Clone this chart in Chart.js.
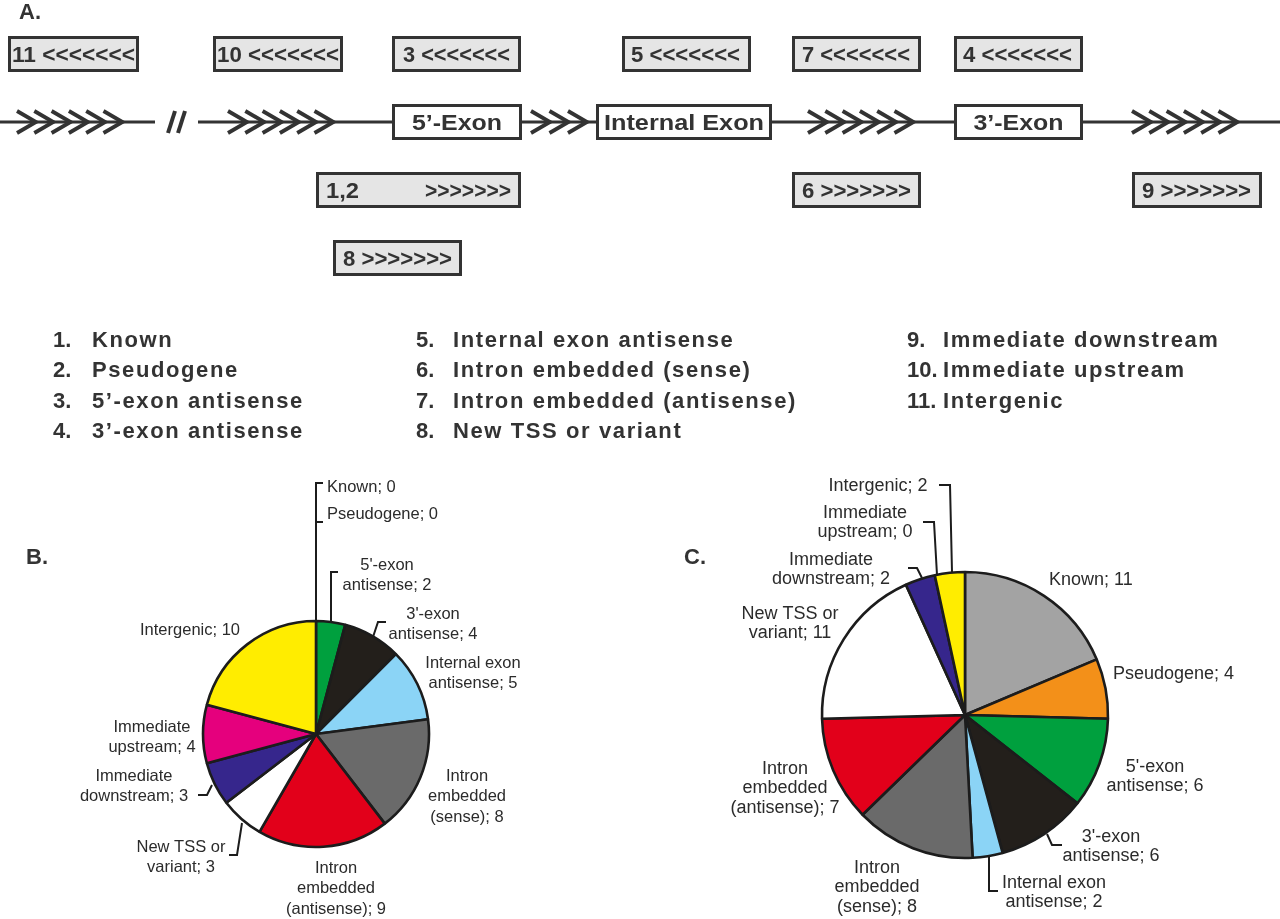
<!DOCTYPE html>
<html><head><meta charset="utf-8">
<script src="https://cdn.jsdelivr.net/npm/chart.js@4.4.1/dist/chart.umd.min.js"></script>
<style>
html,body{margin:0;padding:0;background:#fff;}
body{width:1280px;height:919px;position:relative;overflow:hidden;font-family:"Liberation Sans",Arial,sans-serif;}
#diagram{position:absolute;left:0;top:0;}
.pie{position:absolute;}
</style></head><body>
<svg id="diagram" width="1280" height="460" xmlns="http://www.w3.org/2000/svg"></svg>
<canvas id="pieB" class="pie" width="640" height="459" style="left:0;top:460px;width:640px;height:459px"></canvas>
<canvas id="pieC" class="pie" width="640" height="459" style="left:640px;top:460px;width:640px;height:459px"></canvas>
<script>
// ---------- data ----------
const categories = ["Known","Pseudogene","5'-exon antisense","3'-exon antisense","Internal exon antisense","Intron embedded (sense)","Intron embedded (antisense)","New TSS or variant","Immediate downstream","Immediate upstream","Intergenic"];
const legendNames = ["Known","Pseudogene","5’-exon antisense","3’-exon antisense","Internal exon antisense","Intron embedded (sense)","Intron embedded (antisense)","New TSS or variant","Immediate downstream","Immediate upstream","Intergenic"];
const labelLines = [["Known"],["Pseudogene"],["5'-exon","antisense"],["3'-exon","antisense"],["Internal exon","antisense"],["Intron","embedded","(sense)"],["Intron","embedded","(antisense)"],["New TSS or","variant"],["Immediate","downstream"],["Immediate","upstream"],["Intergenic"]];
const valuesB = [0,0,2,4,5,8,9,3,3,4,10];
const valuesC = [11,4,6,6,2,8,7,11,2,0,2];
const sliceColors = ["#a3a3a3","#f39019","#00a03e","#231f1b","#8bd4f6","#6a6a6a","#e2001a","#ffffff","#36268c","#e5007d","#ffed00"];

// ---------- panel A diagram ----------
const NS = "http://www.w3.org/2000/svg";
const svg = document.getElementById('diagram');
const INK = "#333333";
function el(tag, attrs, text){
  const e = document.createElementNS(NS, tag);
  for (const k in attrs) e.setAttribute(k, attrs[k]);
  if (text !== undefined) e.textContent = text;
  svg.appendChild(e); return e;
}
const FONT = '"Liberation Sans", Arial, sans-serif';
el('text',{x:19,y:19,'font-family':FONT,'font-weight':'bold','font-size':22,fill:INK},'A.');

// main line
const lineY = 122;
el('line',{x1:0,y1:lineY,x2:155,y2:lineY,stroke:INK,'stroke-width':3});
el('line',{x1:198,y1:lineY,x2:1280,y2:lineY,stroke:INK,'stroke-width':3});
el('line',{x1:168,y1:133,x2:175,y2:111,stroke:INK,'stroke-width':4});
el('line',{x1:178,y1:133,x2:185,y2:111,stroke:INK,'stroke-width':4});

// chevron groups
const chevronGroups = [{x:17,n:6,p:17.3},{x:228,n:6,p:17.3},{x:531,n:3,p:18.5},{x:808,n:6,p:17.3},{x:1132,n:6,p:17.3}];
chevronGroups.forEach(g=>{
  for(let i=0;i<g.n;i++){
    const x = g.x + i*g.p;
    el('polyline',{points:`${x},${lineY-11} ${x+19},${lineY} ${x},${lineY+11}`,fill:'none',stroke:INK,'stroke-width':3.8,'stroke-linejoin':'miter'});
  }
});

// exon boxes
const exons = [{t:"5’-Exon",x0:392,x1:522,len:90},{t:"Internal Exon",x0:596,x1:772,len:160},{t:"3’-Exon",x0:954,x1:1083,len:90}];
exons.forEach(b=>{
  el('rect',{x:b.x0+1.5,y:105.5,width:b.x1-b.x0-3,height:33,fill:'#fff',stroke:INK,'stroke-width':3});
  el('text',{x:(b.x0+b.x1)/2,y:130,'text-anchor':'middle','font-family':FONT,'font-weight':'bold','font-size':22,fill:INK,textLength:b.len,lengthAdjust:'spacingAndGlyphs'},b.t);
});

// transcript boxes
const L7 = "<<<<<<<", R7 = ">>>>>>>";
const tBoxes = [
  {n:"11",s:L7,x0:8,x1:139,y:36,tx:12,len:123},
  {n:"10",s:L7,x0:213,x1:343,y:36,tx:217,len:122},
  {n:"3",s:L7,x0:392,x1:521,y:36,tx:403,len:107},
  {n:"5",s:L7,x0:622,x1:751,y:36,tx:631,len:109},
  {n:"7",s:L7,x0:792,x1:921,y:36,tx:802,len:108},
  {n:"4",s:L7,x0:954,x1:1083,y:36,tx:963,len:109},
  {n:"6",s:R7,x0:792,x1:921,y:172,tx:802,len:109},
  {n:"9",s:R7,x0:1132,x1:1262,y:172,tx:1142,len:109},
  {n:"8",s:R7,x0:333,x1:462,y:240,tx:343,len:109}
];
tBoxes.forEach(b=>{
  el('rect',{x:b.x0+1.5,y:b.y+1.5,width:b.x1-b.x0-3,height:33,fill:'#e5e5e5',stroke:INK,'stroke-width':3});
  el('text',{x:b.tx,y:b.y+26,'font-family':FONT,'font-weight':'bold','font-size':21.5,fill:INK,textLength:b.len,lengthAdjust:'spacingAndGlyphs'},b.n+" "+b.s);
});
// 1,2 box
el('rect',{x:317.5,y:173.5,width:202,height:33,fill:'#e5e5e5',stroke:INK,'stroke-width':3});
el('text',{x:326,y:198,'font-family':FONT,'font-weight':'bold','font-size':21.5,fill:INK,textLength:33,lengthAdjust:'spacingAndGlyphs'},"1,2");
el('text',{x:425,y:198,'font-family':FONT,'font-weight':'bold','font-size':21.5,fill:INK,textLength:86,lengthAdjust:'spacingAndGlyphs'},R7);

// legend list
const legendCols = [{num:53,txt:92,from:0,to:4},{num:416,txt:453,from:4,to:8},{num:907,txt:943,from:8,to:11}];
legendCols.forEach(c=>{
  for(let i=c.from;i<c.to;i++){
    const y = 347 + (i-c.from)*30.3;
    el('text',{x:c.num,y:y,'font-family':FONT,'font-weight':'bold','font-size':22,fill:INK},(i+1)+".");
    el('text',{x:c.txt,y:y,'font-family':FONT,'font-weight':'bold','font-size':22,fill:INK,'letter-spacing':'1.6'},legendNames[i]);
  }
});
// panel letters
el('text',{x:26,y:564,'font-family':FONT,'font-weight':'bold','font-size':22,fill:INK},'B.');
el('text',{x:684,y:564,'font-family':FONT,'font-weight':'bold','font-size':22,fill:INK},'C.');
svg.setAttribute('height','919');
svg.style.pointerEvents='none';
svg.style.zIndex='2';

// ---------- pie charts ----------
const layoutB = {
  radius:113, padding:{left:196,right:204,top:154,bottom:65},
  font:'16.5px "Liberation Sans", Arial, sans-serif', lineH:20.5,
  labels:[[11,-247,'left'],[11,-220,'left'],[71,-169],[117,-120],[157,-71],[151,42],[20,134],[-135,113],[-182,42],[-164,-7],[-126,-104]],
  leaders:[[[7,-251],[0,-251],[0,-112]],[[0,-212],[7,-212]],[[15,-112],[15,-162],[22,-162]],[[57,-97],[62,-112],[70,-112]],[[-118,61],[-109,61],[-104,51]],[[-87,121],[-79,121],[-74,89]]]
};
const layoutC = {
  radius:143, padding:{left:175,right:165,top:105,bottom:54},
  font:'18px "Liberation Sans", Arial, sans-serif', lineH:19.3,
  labels:[[84,-135,'left'],[148,-41,'left'],[190,52],[146,122],[89,168],[-88,153],[-180,54],[-175,-101],[-134,-155],[-100,-202],[-87,-229]],
  leaders:[[[-26,-230],[-15,-230],[-13,-143]],[[-42,-193],[-31,-193],[-28,-140]],[[-57,-147],[-48,-147],[-43,-137]],[[82,119],[87,130],[97,130]],[[24,142],[24,176],[33,176]]]
};

function labelPlugin(values, cfg){
  return {
    id:'sliceLabels',
    afterDatasetsDraw(chart){
      const arc = chart.getDatasetMeta(0).data[0];
      const cx = arc.x, cy = arc.y, ctx = chart.ctx;
      ctx.save();
      ctx.font = cfg.font;
      ctx.fillStyle = '#2b2b2b';
      ctx.textBaseline = 'middle';
      labelLines.forEach((lines,i)=>{
        const pos = cfg.labels[i];
        const txt = lines.slice();
        txt[txt.length-1] += '; ' + values[i];
        ctx.textAlign = pos[2] || 'center';
        txt.forEach((t,k)=>ctx.fillText(t, cx+pos[0], cy+pos[1]+k*cfg.lineH));
      });
      ctx.strokeStyle = '#1c1c1c';
      ctx.lineWidth = 2;
      ctx.lineJoin = 'miter';
      cfg.leaders.forEach(pts=>{
        ctx.beginPath();
        pts.forEach((p,k)=> k ? ctx.lineTo(cx+p[0],cy+p[1]) : ctx.moveTo(cx+p[0],cy+p[1]));
        ctx.stroke();
      });
      ctx.restore();
    }
  };
}
function makePie(id, values, cfg){
  return new Chart(document.getElementById(id), {
    type:'pie',
    data:{labels:categories, datasets:[{data:values, backgroundColor:sliceColors, borderColor:'#1c1c1c', borderWidth:2.6}]},
    options:{responsive:false, animation:false, events:[], radius:cfg.radius,
      layout:{padding:cfg.padding},
      plugins:{legend:{display:false}, tooltip:{enabled:false}}},
    plugins:[labelPlugin(values,cfg)]
  });
}
makePie('pieB', valuesB, layoutB);
makePie('pieC', valuesC, layoutC);
</script>
</body></html>
